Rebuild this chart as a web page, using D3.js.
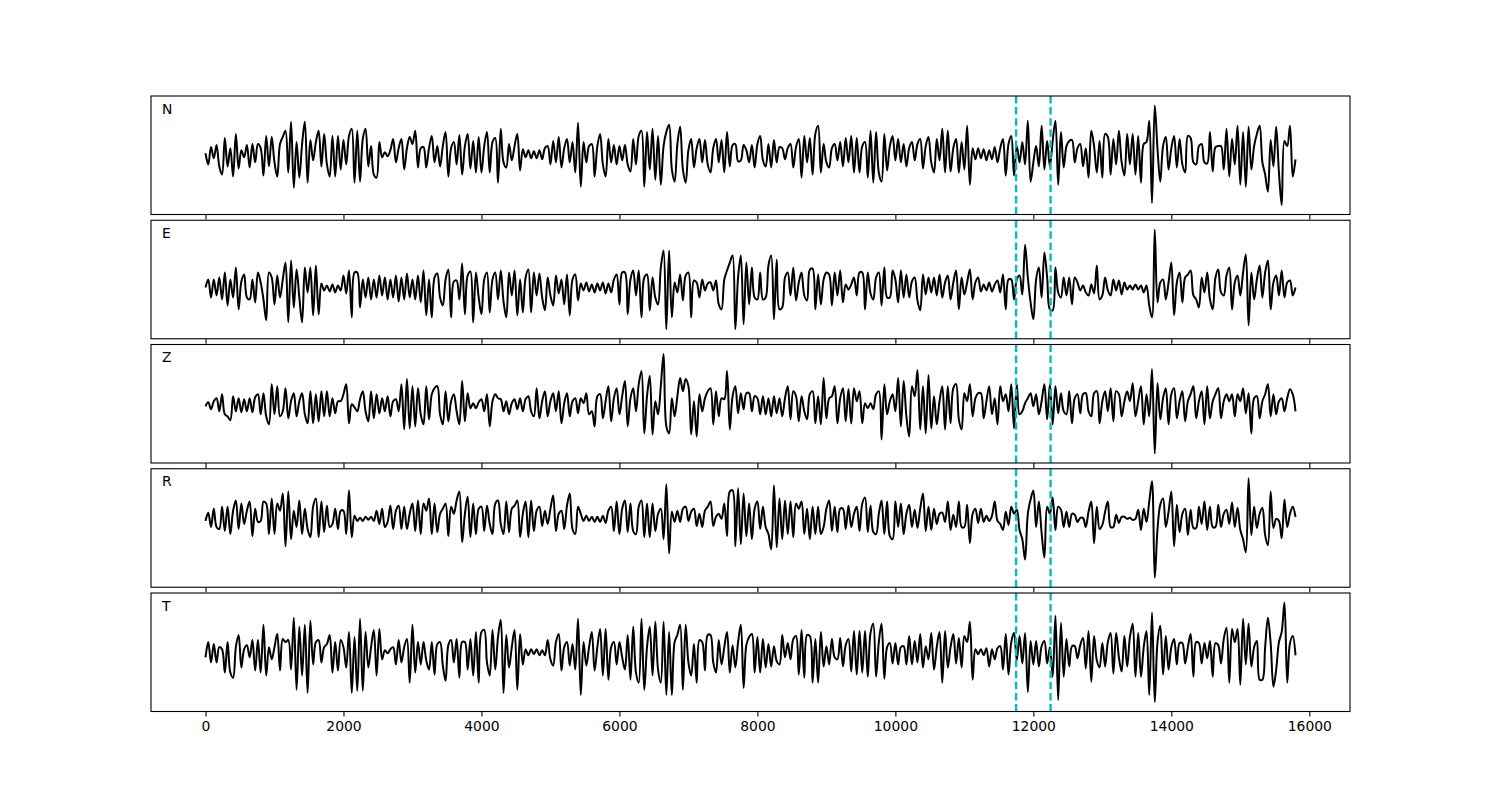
<!DOCTYPE html>
<html>
<head>
<meta charset="utf-8">
<script src="https://cdnjs.cloudflare.com/ajax/libs/d3/7.8.5/d3.min.js"></script>
<style>
body { margin: 0; background: #fff; }
text { font-family: "DejaVu Sans", sans-serif; }
</style>
</head>
<body>
<div id="chart"></div>
<script>
// traces are sampled every dt samples, starting at 0
var dt = 40
var components = ["N", "E", "Z", "R", "T"]
var picks = [11750, 12250]
var xTicks = [0, 2000, 4000, 6000, 8000, 10000, 12000, 14000, 16000]

var traceN = [
    1, -10, 7, -4, 9, -12, -20, 16, -12, 6, -22, 20, -14, 4, -3, 9, -13, 10, -8, 10, 6, -21, 18, -12, 17,
    -8, -22, 10, 17, 23, -18, 32, -33, 12, -23, 10, 32, -28, 14, -6, 12, 23, -12, 20, -10, -22, 18, -22, 18, -15,
    14, -10, 18, 25, -28, 23, -27, 15, 25, -12, 8, -20, -23, 12, -3, 2, -2, 4, 15, -8, 6, 15, -15, 6, 17,
    10, 23, -13, 6, 7, -13, 6, 18, -8, 8, -12, 8, 22, -22, 6, 12, -10, 19, -20, 8, 20, -14, 13, -18, 17,
    -18, 8, 22, -18, 12, 16, -28, 25, -8, -13, 10, -6, 8, 20, -16, 5, -3, 4, -4, 3, -4, 4, -5, 6, 8,
    -10, 13, -8, 17, -13, 6, 15, -8, 12, -18, 31, -32, 12, -8, 8, 10, -22, 8, 20, -10, -22, 15, -8, 9, -10,
    8, -6, 9, -10, -17, 15, -10, 18, 23, -32, 22, -15, 25, -25, 18, -30, 8, 22, 29, -15, -27, 10, 27, -15, -28,
    4, 15, -13, 6, 15, -8, 14, -10, -18, 6, 15, -8, 14, -18, 22, -12, 9, 10, -7, -6, 9, 4, -8, 9, -13,
    10, 18, -6, -12, 10, -13, 14, -8, 7, 6, -5, 6, 10, -13, 7, 15, -23, 18, -8, 16, -20, 20, 28, -18, 10,
    -8, -13, 6, 10, -6, 12, -12, 16, -8, 18, -18, 16, -18, 8, 12, -23, 23, -28, 22, -18, -27, 20, -16, 8, 18,
    -6, 15, -8, 10, -12, 6, 12, -6, 10, 15, -14, 8, 17, -8, -18, 15, -6, 25, -18, 23, -17, 6, 15, -18, 12,
    -15, 28, -30, 6, -5, 6, -4, 5, -6, 4, -5, 7, -8, 6, 15, -21, 10, 18, -21, 8, -8, 12, -10, 33, -27,
    -8, 8, -12, 28, -15, 13, -12, 13, 33, -30, 22, -13, 8, 13, 14, -8, 6, 10, -12, 6, -23, 23, 8, -18, 13,
    -23, 20, 17, -20, 15, -10, 23, -8, -21, 20, -10, 20, -20, 18, -28, 10, 12, 33, -48, 48, 5, -27, 8, 17, -15,
    6, 18, -13, 15, -10, -18, 18, 16, -8, -10, 8, 10, -8, -9, 22, -17, 7, 8, 8, -15, 25, -22, 15, -10, 28,
    -30, 22, -32, 27, -15, 8, 20, 28, -8, -20, -37, 14, -12, 27, -18, -50, 13, 8, 28, -22, -5
]

var traceE = [
    0, 8, -10, 8, -8, 10, -12, 15, -18, 8, -10, 20, -22, 6, 13, -10, -12, 8, -15, 15, 5, -12, -33, 15, 10,
    -17, 12, -10, 8, 25, -35, 27, -20, 18, -10, -35, 20, -5, 20, -28, 22, -27, 4, -3, 2, -4, 3, -5, 2, -3,
    12, -6, 17, -30, 15, 15, -20, 8, -10, 10, -12, 8, -10, 12, -8, 10, -12, 8, -10, 12, -14, 10, -12, 14, -10,
    8, -12, 12, -15, 17, -28, 8, -30, 10, 14, -10, -18, 8, 18, -30, 6, 7, -12, 24, -27, 12, 16, -35, 15, -10,
    -27, 8, 15, -25, 8, 15, -12, 17, -14, -30, 15, -8, 17, -28, 8, -25, 10, 18, -25, 15, -8, 14, -10, -23, 10,
    -8, -18, 12, -6, 8, -17, 13, -28, 8, 13, -13, 4, -3, 5, -4, 3, -5, 4, -3, 5, -6, 4, -5, 8, 13,
    -17, 15, 15, -27, 8, 17, -8, 17, -30, 10, 13, -23, 10, -10, -17, 20, 37, -42, 37, -30, 5, -5, 13, -13, 12,
    15, -30, 7, 5, -10, 8, -3, 4, 5, -3, 7, -17, -22, 8, 17, 25, 32, -42, 10, 32, -37, 25, -17, 20, -10,
    -12, 15, -12, -10, 22, 32, -32, 28, -22, -20, 10, 15, -8, 20, -13, 5, 15, -8, -13, 18, 19, -22, 13, -17, 8,
    15, 13, -18, 15, -8, 17, -15, 3, -2, 3, 10, -8, 15, 15, -22, 15, -6, -12, 10, 15, -18, 20, -10, -10, 17,
    8, -15, 17, -10, 13, -10, 6, 10, -13, -23, 13, -7, 10, -5, 10, -8, 13, -10, 5, 12, -12, 5, 17, -22, 10,
    -7, 5, 18, -12, 5, 10, -4, 3, -3, 5, -4, 3, 7, -5, 13, -22, 8, 8, -12, 8, 12, -7, 43, 10, -15,
    -32, 8, 20, -10, 35, 10, -22, -23, 20, -5, -10, 10, -8, 10, -17, 10, 5, -3, 2, -5, -8, 3, -6, 22, -12,
    -8, 10, -3, -8, 8, -3, 7, -7, 5, -2, 2, -2, 3, -2, 2, -5, 2, -18, -30, 58, -15, 5, 8, -12, 5,
    25, -28, 5, 15, -15, 10, 13, 17, -8, -12, -20, 10, -5, 15, -12, -22, 10, 18, -5, -8, 12, 20, -22, 5, 12,
    -8, 15, 33, -38, 15, -12, 8, 22, -10, 15, 27, -22, 5, 12, -8, 17, -10, 5, 7, -8, 0
]

var traceZ = [
    0, 4, -3, 5, 8, -5, 12, -8, -10, -14, 10, -5, 8, -6, 7, -5, 8, -6, 9, 12, -8, 13, -10, -18, 22,
    -8, 20, -10, -5, 18, -12, 5, 13, -10, 5, 13, -8, -17, 15, -17, 12, -15, 15, -10, 15, -10, 8, -7, 5, 5,
    12, 22, -17, 2, -1, -5, 7, 15, -5, -15, 15, -12, 12, -7, 8, -5, 10, -10, 5, 7, -5, 22, -23, 27, -22,
    20, -20, 18, -8, -18, 20, -13, 12, 18, 20, -8, -18, 15, -15, 5, 12, -5, -18, 25, -15, 13, -2, 3, -2, 4,
    7, -5, 12, -20, 5, 12, 8, 7, -5, 5, -8, 3, 7, -3, 8, -5, 7, 10, -5, -10, 18, -12, 5, 15, -10,
    5, 13, -5, 15, -17, 3, 13, -10, 5, 8, -7, 8, 3, 13, -8, -5, -20, 10, 12, -12, 5, 20, -15, 8, 18,
    -8, 10, 25, -20, 8, 18, -5, 22, 35, -27, 10, 30, -28, 5, -8, 20, 52, -20, -27, 8, -10, 10, 28, 15, 27,
    20, -28, 5, -30, 12, -5, 8, 15, 18, -18, 15, -10, 8, 7, 35, -23, 10, 20, -7, 13, -3, 13, 13, -5, 10,
    8, -8, 10, -8, 8, -10, 10, -7, 8, -10, 8, 20, -13, 15, 10, -15, 10, -5, -13, 12, 15, -17, 10, -18, 28,
    -12, 8, 10, 20, -17, 8, 18, -15, 17, -17, 18, 5, 15, -17, 3, -2, 3, -3, 12, 15, -33, 22, -8, 5, 12,
    -5, 28, -20, 25, -10, -30, 20, 10, 36, -23, 20, -27, 31, -22, 10, -18, 5, 20, -23, 20, -17, 18, 22, -13, -23,
    13, 5, 22, -10, 8, 13, 13, -12, 5, 20, -8, 8, -18, 20, 5, 12, -5, 22, -22, 22, -8, -5, 3, 8, 13,
    0, 12, -8, 5, 22, -13, 22, -18, 20, -7, 13, -5, -8, 15, -17, 8, 12, -7, 12, 13, -5, -10, 13, 15, -17,
    5, 15, -5, 18, -15, 15, 12, -10, 5, 15, 5, 23, -10, 5, 20, -18, 12, -10, 37, -47, 23, -13, 8, 18, -18,
    12, 18, -12, 5, 15, -15, 5, 12, 20, -12, 5, 15, -18, 20, -12, 5, 12, 18, -12, 5, 12, 5, 12, -10, 12,
    5, 18, -7, 13, -27, 8, 10, -12, 5, 12, 22, -10, 12, -8, 5, 8, -5, 8, 17, 12, -5
]

var traceR = [
    -2, 6, -8, 10, -8, -10, 12, -12, 12, -15, 8, 18, -10, 15, -5, 8, 17, -17, 10, -3, -2, 17, 15, -15, 20,
    -15, 15, 8, 25, -27, 27, -20, 8, -8, 18, -15, 10, -10, -18, 12, 20, -18, 17, -13, 13, -8, -5, 10, -10, 8,
    8, -15, 28, -18, 3, -2, 1, -2, 2, -1, 2, -2, 8, -5, 10, -8, -3, 13, -10, 8, 13, -10, 12, -10, 5,
    15, -12, 18, -15, 15, 8, 20, -15, 15, -13, 5, 10, 15, -17, 12, 5, 18, 27, -23, 5, 22, -18, 15, -15, 10,
    12, -12, 13, -5, -15, 15, 18, -5, -15, 17, -13, 10, 13, 18, -18, 5, 17, -18, 18, -12, 8, 12, -7, 8, -5,
    10, 23, -12, 5, 8, -10, 13, 25, -10, -15, 12, 5, -2, 3, -2, 2, -3, 2, -3, 3, -4, 8, 12, -12, 17,
    -15, 10, 18, -13, 15, -12, -15, 12, 18, -18, 15, -18, 15, -12, 5, 10, -20, 34, -34, 7, -3, 8, -3, 10, 12,
    -2, 7, 10, -7, 5, -8, 8, 12, 17, -7, 2, 5, 0, 15, -17, 27, 28, -27, 30, -25, 25, -17, 15, -20, 10,
    17, -10, 12, -8, -15, -30, 33, -28, 20, -20, 18, -15, 17, -18, 15, 10, 17, -15, 10, -20, 12, -15, 12, -15, -8,
    10, 18, -12, 12, -13, 10, 10, -10, 13, -8, 5, 12, -12, 15, 21, -13, 13, -13, -15, 5, 18, -15, 17, -17, -20,
    17, -8, 15, -15, 5, 14, -8, 9, -9, 10, 25, -12, 12, -11, 10, -5, 5, 6, -3, 17, -11, 4, -8, 17, -8,
    -8, 14, -24, 5, 10, -4, 10, -3, 3, -2, 3, 17, -2, -5, -11, 7, -6, 12, 5, 9, -11, -20, -40, 5, 19,
    28, -8, 17, -14, -38, 12, 5, 21, -11, 12, 9, -8, 7, -8, 5, 4, -3, 1, 1, -8, 7, 17, -24, 12, -10,
    -6, 7, 17, -8, -8, 4, -4, 2, 2, 0, 1, -1, 0, 9, -11, 10, -3, 17, 37, -58, -10, 14, 20, -8, 7,
    27, -27, 14, -13, 5, 10, -16, 9, -9, -9, 12, -5, 17, -11, 12, -8, -8, 14, -8, 5, 9, -5, 16, -8, 11,
    -11, -20, -33, 40, -16, 12, -9, 5, 11, -16, -26, 27, -9, 0, -2, -19, 19, -8, 5, 12, 2
]

var traceT = [
    -5, 10, -10, 8, -10, 5, 3, -20, 10, -20, -25, 5, 17, -15, 3, 7, -5, 12, -18, 12, -20, 27, -23, 5, -7,
    5, 18, -18, 13, 10, 12, -17, 34, -37, 25, -23, 27, -40, 31, -12, 10, 12, -10, 5, 8, 17, -20, 10, -18, 12,
    5, -15, 20, -40, 15, -38, 33, -38, 20, -15, 5, 22, -23, 23, -7, 2, -1, 3, 5, -12, 12, -10, 5, 13, -30,
    27, -20, 10, -12, 10, -8, -17, 10, -22, 8, 10, -13, -28, 7, 12, -10, 13, -25, 10, 10, -17, 13, -23, 20, -30,
    20, 22, -10, -23, 22, -17, 15, 32, -40, 17, -15, 5, 22, -37, 18, -12, 3, -3, 3, -2, 3, -3, 2, -3, 12,
    -7, -13, 10, 18, -18, 5, 10, -13, 8, -17, 33, -42, 10, -13, 5, 20, -18, 5, 23, -23, 23, -27, 5, 10, -12,
    10, -5, -17, 17, -27, 25, -20, -30, 33, -37, 5, 25, -23, 30, -17, -30, 30, -42, 20, -42, 10, 17, 27, -37, 27,
    -10, -23, 8, -30, 12, 10, -18, 17, 17, -10, -20, 12, -12, 5, 20, -20, 7, -15, 10, 27, -35, 7, 15, 18, -20,
    15, -20, 13, -15, 8, -14, 6, -9, -12, 17, -5, 9, -7, 13, 16, -22, 22, -25, 17, 16, -30, 13, -30, 20, -14,
    6, -12, 13, -5, -7, 14, -14, 7, 13, -19, 21, -22, 21, -20, 21, -24, 19, 28, -24, 10, 28, -26, 5, 9, -11,
    9, -12, 5, 6, -12, 16, -12, 11, -10, 18, -15, 6, -7, 19, -17, 5, 20, -30, 21, -15, 5, 18, -11, 14, -15,
    16, 10, 30, -27, 3, -2, 3, -3, 4, -14, 3, -7, 4, 6, -17, 18, -22, 10, 19, -8, 16, -11, 19, -39, 11,
    -12, 11, -14, 6, 11, -11, 5, -24, 36, -47, 29, -24, 13, -14, 6, 6, -6, 7, 14, -16, 21, -29, 16, -8, -15,
    9, -14, 10, 19, -21, 19, -5, -19, 16, -14, 15, 28, -24, 19, -24, 5, 21, -42, 39, -49, 10, 26, -22, 16, -17,
    5, 13, -12, 9, 9, -11, 5, 18, -24, 10, 9, -11, 9, -6, 11, -24, 9, 7, -11, 13, 24, -30, 23, 10, 23,
    -32, 33, -12, 28, -14, 5, 11, -27, -27, 5, 34, 9, -34, -17, 10, 20, 49, -30, 9, 16, -3
]

var traces = [traceN, traceE, traceZ, traceR, traceT]

var width = 1500
var height = 800
var plotLeft = 151
var plotRight = 1350
var plotTop = 96
var panelH = 118.5
var gap = 5.75

var svg = d3.select("#chart").append("svg")
    .attr("width", width)
    .attr("height", height)

// matplotlib style 5% margin on the time axis
var tEnd = (traceN.length - 1) * dt
var x = d3.scaleLinear()
    .domain([-0.05 * tEnd, tEnd * 1.05])
    .range([plotLeft, plotRight])

traces.forEach(function (vals, i) {
    var y0 = plotTop + i * (panelH + gap)
    var ext = d3.extent(vals)
    var pad = (ext[1] - ext[0]) * 0.095
    var y = d3.scaleLinear()
        .domain([ext[0] - pad, ext[1] + pad])
        .range([y0 + panelH, y0])

    var g = svg.append("g")

    var line = d3.line()
        .x(function (d, j) { return x(j * dt) })
        .y(function (d) { return y(d) })
        .curve(d3.curveCatmullRom.alpha(0.5))

    g.append("path")
        .datum(vals)
        .attr("d", line)
        .attr("fill", "none")
        .attr("stroke", "black")
        .attr("stroke-width", 2)
        .attr("stroke-linejoin", "round")

    g.selectAll(".pick")
        .data(picks)
        .enter()
        .append("line")
        .attr("class", "pick")
        .attr("x1", function (d) { return x(d) })
        .attr("x2", function (d) { return x(d) })
        .attr("y1", y0 + panelH)
        .attr("y2", y0)
        .attr("stroke", "#00bfbf")
        .attr("stroke-width", 2.4)
        .attr("stroke-dasharray", "7.5,3.6")

    var axis = d3.axisBottom(x)
        .tickValues(xTicks)
        .tickSize(4.9)
        .tickPadding(4.9)
        .tickFormat(i == traces.length - 1 ? d3.format("d") : "")

    var ax = g.append("g")
        .attr("transform", "translate(0," + (y0 + panelH) + ")")
        .call(axis)
    ax.select(".domain").remove()
    ax.selectAll("line").attr("stroke-width", 1.1)
    ax.selectAll("text")
        .attr("font-size", "13.9px")
        .attr("font-family", "DejaVu Sans")
        .attr("fill", "black")

    g.append("rect")
        .attr("x", plotLeft)
        .attr("y", y0)
        .attr("width", plotRight - plotLeft)
        .attr("height", panelH)
        .attr("fill", "none")
        .attr("stroke", "black")
        .attr("stroke-width", 1.1)

    g.append("text")
        .attr("x", plotLeft + 11)
        .attr("y", y0 + 17.5)
        .attr("font-size", "13.9px")
        .text(components[i])
})
</script>
</body>
</html>
